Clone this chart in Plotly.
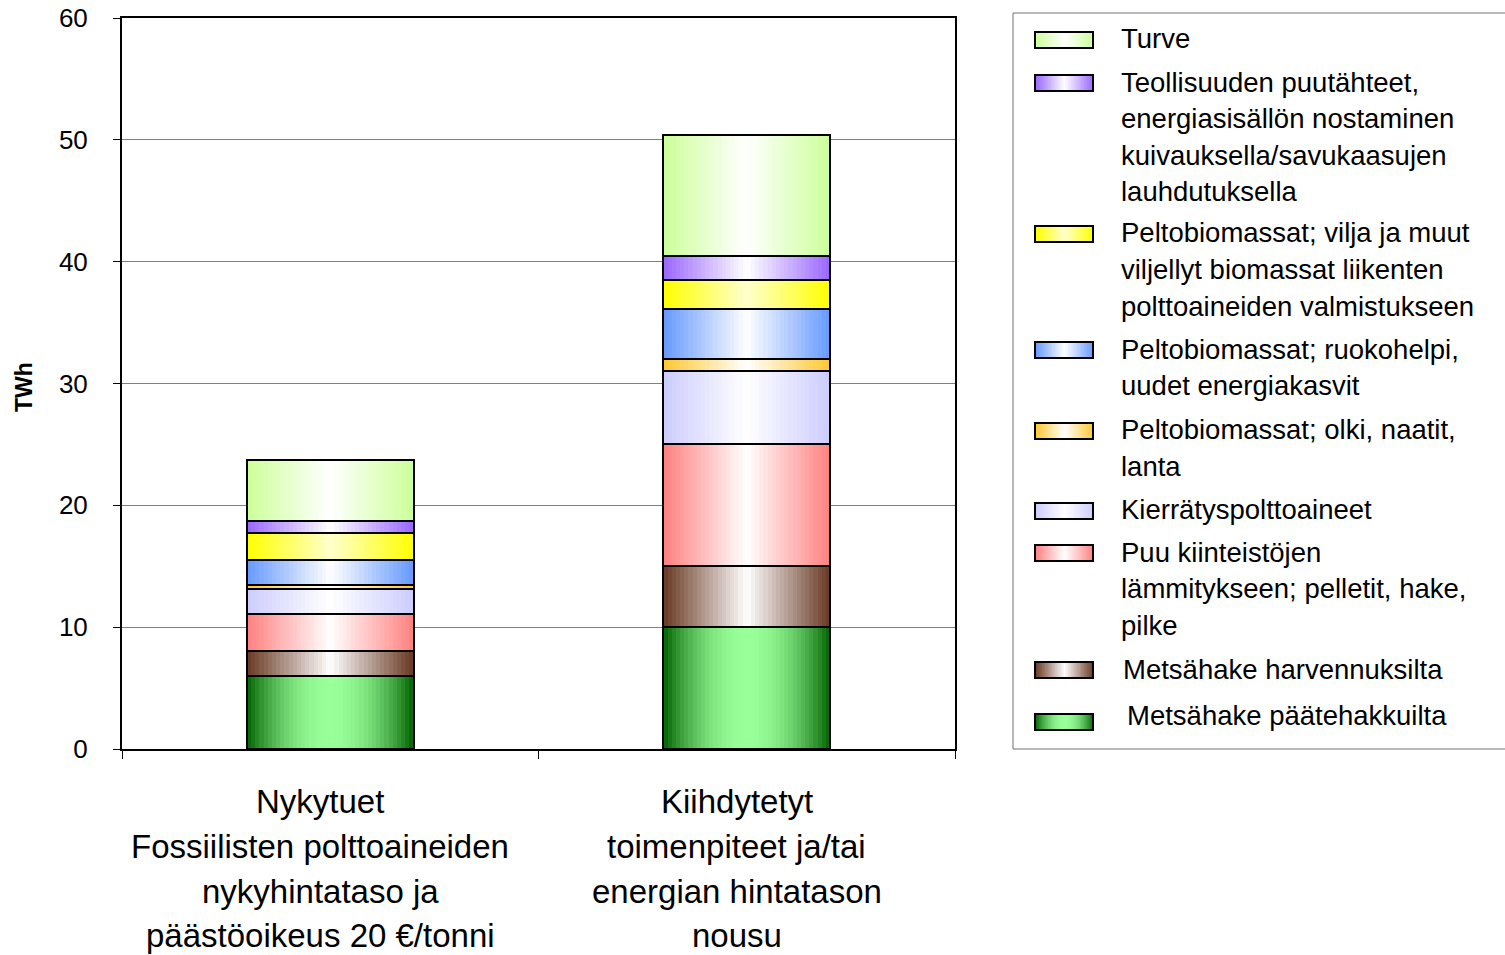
import numpy as np
import plotly.graph_objects as go

# ---------------- data ----------------
categories = [
    "Nykytuet<br>Fossiilisten polttoaineiden<br>nykyhintataso ja<br>päästöoikeus 20 €/tonni",
    "Kiihdytetyt<br>toimenpiteet ja/tai<br>energian hintatason<br>nousu",
]
# stacking order: bottom -> top
series_names = [
    "Metsähake päätehakkuilta",
    "Metsähake harvennuksilta",
    "Puu kiinteistöjen<br>lämmitykseen; pelletit, hake,<br>pilke",
    "Kierrätyspolttoaineet",
    "Peltobiomassat; olki, naatit,<br>lanta",
    "Peltobiomassat; ruokohelpi,<br>uudet energiakasvit",
    "Peltobiomassat; vilja ja muut<br>viljellyt biomassat liikenten<br>polttoaineiden valmistukseen",
    "Teollisuuden puutähteet,<br>energiasisällön nostaminen<br>kuivauksella/savukaasujen<br>lauhdutuksella",
    "Turve",
]
values_nykytuet = [6.0, 2.05, 3.0, 2.05, 0.35, 2.1, 2.2, 0.95, 5.0]
values_kiihdytetyt = [10.0, 5.0, 10.0, 6.0, 1.0, 4.1, 2.4, 2.0, 9.9]
y_ticks = [0, 10, 20, 30, 40, 50, 60]
y_title = "TWh"

# ---------------- styles ----------------
edge_colors = [(0, 98, 0), (104, 56, 34), (255, 128, 128), (204, 204, 255),
               (255, 200, 48), (102, 153, 255), (255, 255, 0), (153, 102, 255),
               (204, 255, 153)]
center_colors = [(153, 255, 153), (255, 255, 255), (255, 255, 255), (255, 255, 255),
                 (255, 255, 255), (255, 255, 255), (255, 255, 204), (255, 255, 255),
                 (255, 255, 255)]
shape_exp = [2.0, 1.0, 1.0, 1.0, 1.0, 1.0, 1.0, 1.0, 1.0]

FONT = "Liberation Sans, Arial, sans-serif"
W_PX, H_PX = 1505, 955
PLOT_L, PLOT_R, PLOT_T, PLOT_B = 122, 955, 18, 749
LEG_L, LEG_R, LEG_T, LEG_B = 1013, 1505, 13, 749


def px(x):
    return x / W_PX


def py(y):
    return 1 - y / H_PX


def grad_color(k, u):
    t = abs(2 * (u - 0.5))
    f = t ** shape_exp[k]
    e, c = edge_colors[k], center_colors[k]
    r, g, b = [round(c[j] + (e[j] - c[j]) * f) for j in range(3)]
    return f"rgb({r},{g},{b})"


fig = go.Figure()

values_by_cat = [values_nykytuet, values_kiihdytetyt]
n_series = len(series_names)
bases = [[sum(vals[:k]) for vals in values_by_cat] for k in range(n_series)]
heights = [[vals[k] for vals in values_by_cat] for k in range(n_series)]

BAR_W = 0.4
N_STRIPS = 40
sw = BAR_W / N_STRIPS
for k in range(n_series):
    for i in range(N_STRIPS):
        u = (i + 0.5) / N_STRIPS
        w = sw * 1.2 if i < N_STRIPS - 1 else sw
        fig.add_trace(go.Bar(
            x=categories, y=heights[k], base=bases[k],
            width=[w, w], offset=[-BAR_W / 2 + i * sw] * 2,
            marker=dict(color=grad_color(k, u), line=dict(width=0)),
            showlegend=False, hoverinfo="skip",
        ))
    # outline of segment
    fig.add_trace(go.Bar(
        x=categories, y=heights[k], base=bases[k], name=series_names[k],
        width=[BAR_W, BAR_W], offset=[-BAR_W / 2] * 2,
        marker=dict(color="rgba(0,0,0,0)", line=dict(color="black", width=2)),
        showlegend=False,
        hovertemplate="%{y}<extra>" + series_names[k].replace("<br>", " ") + "</extra>",
    ))

# ---------------- custom legend (gradient swatches) ----------------
legend_order = list(range(n_series))[::-1]  # top to bottom in legend
swatch_centers = [40, 83, 234, 350, 431, 511, 553, 670, 722]
text_first_line = [39, 82, 233, 349, 430, 509, 552, 669, 715]
text_x = [1119, 1119, 1119, 1119, 1119, 1119, 1119, 1121, 1125]
LINE_H = 36.5
SW_L, SW_R, SW_H = 1035, 1093, 16
M = 40
xe = np.linspace(SW_L, SW_R, M + 1)
zrow = [(j + 0.5) / M for j in range(M)]
annotations = []
shapes = []
for pos, k in enumerate(legend_order):
    cs = [[s, grad_color(k, s)] for s in np.linspace(0, 1, 41)]
    c = swatch_centers[pos]
    fig.add_trace(go.Heatmap(
        z=[zrow], x=xe, y=[c - SW_H / 2, c + SW_H / 2],
        colorscale=cs, zmin=0, zmax=1, zsmooth="best", showscale=False,
        xaxis="x2", yaxis="y2", hoverinfo="skip",
    ))
    shapes.append(dict(type="rect", xref="x2", yref="y2", x0=SW_L, x1=SW_R,
                       y0=c - SW_H / 2, y1=c + SW_H / 2,
                       line=dict(color="black", width=2)))
    for li, line in enumerate(series_names[k].split("<br>")):
        annotations.append(dict(
            text=line, xref="paper", yref="paper",
            x=px(text_x[pos]), y=py(text_first_line[pos] + li * LINE_H),
            xanchor="left", yanchor="middle", showarrow=False,
            font=dict(family=FONT, size=27.5, color="black"),
        ))

shapes.append(dict(type="rect", xref="paper", yref="paper",
                   x0=px(LEG_L), x1=px(LEG_R + 20), y0=py(LEG_B), y1=py(LEG_T),
                   line=dict(color="#707070", width=1)))

# ---------------- category labels ----------------
cat_line_y = [801, 846, 891, 935]
for ci, cat in enumerate(categories):
    for li, line in enumerate(cat.split("<br>")):
        annotations.append(dict(
            text=line, xref="x", yref="paper", x=ci, xshift=-10,
            y=py(cat_line_y[li]), xanchor="center", yanchor="middle",
            showarrow=False, font=dict(family=FONT, size=33, color="black"),
        ))

# y-axis title
annotations.append(dict(
    text="<b>" + y_title + "</b>", xref="paper", yref="paper",
    x=px(24), y=py(387), textangle=-90, showarrow=False,
    xanchor="center", yanchor="middle",
    font=dict(family=FONT, size=23, color="black"),
))

fig.update_layout(
    width=W_PX, height=H_PX,
    margin=dict(l=0, r=0, t=0, b=0),
    paper_bgcolor="white", plot_bgcolor="white",
    barmode="overlay", bargap=0,
    showlegend=False,
    font=dict(family=FONT, size=26, color="black"),
    xaxis=dict(
        domain=[px(PLOT_L), px(PLOT_R)],
        type="category", categoryorder="array", categoryarray=categories,
        range=[-0.5, 1.5], showticklabels=False,
        tickson="boundaries", ticks="outside", ticklen=8, tickwidth=1,
        tickcolor="black", showgrid=False, zeroline=False,
        showline=True, linecolor="black", linewidth=2, mirror=True,
        automargin=False, fixedrange=True,
    ),
    yaxis=dict(
        domain=[py(PLOT_B), py(PLOT_T)],
        range=[0, 60], tickvals=y_ticks, ticktext=[str(v) for v in y_ticks],
        ticks="outside", ticklen=7, tickwidth=1, tickcolor="black",
        ticklabelstandoff=20, ticklabeloverflow="allow",
        tickfont=dict(family=FONT, size=26, color="black"),
        showgrid=True, gridcolor="#808080", gridwidth=1, zeroline=False,
        showline=True, linecolor="black", linewidth=2, mirror=True,
        automargin=False, fixedrange=True,
    ),
    xaxis2=dict(domain=[px(LEG_L), 1], range=[LEG_L, LEG_R], visible=False,
                fixedrange=True, anchor="y2"),
    yaxis2=dict(domain=[py(LEG_B), py(LEG_T)], range=[LEG_B, LEG_T], visible=False,
                fixedrange=True, anchor="x2"),
    annotations=annotations,
    shapes=shapes,
)

fig.write_html(
    "out.html",
    config={"displayModeBar": False},
    post_script="document.body.style.margin='0';document.body.style.overflow='hidden';",
)
